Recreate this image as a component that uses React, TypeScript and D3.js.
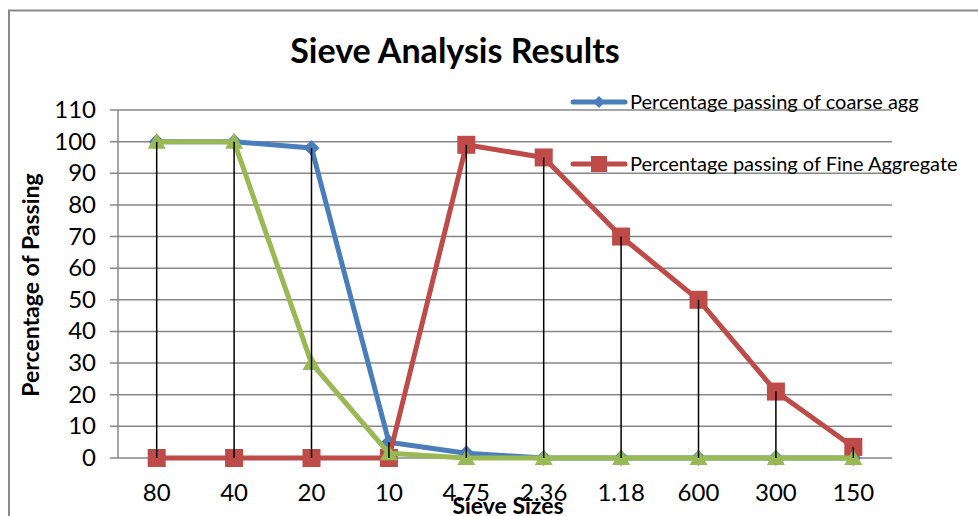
import React from "react";
import * as d3 from "d3";

const categories = ["80", "40", "20", "10", "4.75", "2.36", "1.18", "600", "300", "150"];
const coarse = [100, 100, 98, 5, 1.5, 0, 0, 0, 0, 0];
const fine = [0, 0, 0, 0, 99, 95, 70, 50, 21, 3.5];
const third = [100, 100, 30, 1.5, 0, 0, 0, 0, 0, 0];
const yTicks = [0, 10, 20, 30, 40, 50, 60, 70, 80, 90, 100, 110];
const legendLabels = ["Percentage passing of coarse agg", "Percentage passing of Fine Aggregate"];

const W = 978, H = 516;
const left = 118, right = 892, top = 110, bottom = 458;
const FONT = "Lato, 'Open Sans', sans-serif";

export default function App() {
  const x = d3.scaleBand().domain(categories).range([left, right]);
  const cx = (c: string) => (x(c) as number) + x.bandwidth() / 2;
  const y = d3.scaleLinear().domain([0, 110]).range([bottom, top]);
  const line = d3.line<number>().x((_, i) => cx(categories[i])).y((d) => y(d));
  const blue = "#4A7EBB", red = "#BE4B48", green = "#98B954";
  const grid = "#878787";

  const diamond = (px: number, py: number, s: number) =>
    `M${px},${py - s} L${px + s},${py} L${px},${py + s} L${px - s},${py} Z`;
  const tri = (px: number, py: number) =>
    `M${px},${py - 9} L${px + 9},${py + 7} L${px - 9},${py + 7} Z`;

  return (
    <svg width={W} height={H} style={{ position: "absolute", left: 0, top: 0, background: "#fff" }} fontFamily={FONT}>
      <rect x={0} y={0} width={W} height={H} fill="#fff" />
      {/* outer border */}
      <path d={`M9,${H} L9,10.5 L${W},10.5`} fill="none" stroke="#898989" strokeWidth={2} />
      {/* gridlines */}
      {yTicks.map((t) => (
        <line key={t} x1={left - 8} x2={right} y1={y(t)} y2={y(t)} stroke={grid} strokeWidth={1.5} />
      ))}
      <line x1={left} x2={left} y1={top} y2={bottom} stroke={grid} strokeWidth={1.5} />
      {yTicks.map((t) => (
        <text key={"l" + t} x={96} y={y(t) + 8} textAnchor="end" fontSize={24} fill="#000">
          {t}
        </text>
      ))}
      {categories.map((c) => (
        <text key={"c" + c} x={cx(c)} y={501} textAnchor="middle" fontSize={24} fill="#000">
          {c}
        </text>
      ))}
      {/* series */}
      <path d={line(coarse) as string} fill="none" stroke={blue} strokeWidth={5} strokeLinejoin="round" />
      {coarse.map((v, i) => (
        <path key={"b" + i} d={diamond(cx(categories[i]), y(v), 8)} fill={blue} />
      ))}
      <path d={line(fine) as string} fill="none" stroke={red} strokeWidth={5} strokeLinejoin="round" />
      {fine.map((v, i) => (
        <rect key={"r" + i} x={cx(categories[i]) - 9} y={y(v) - 9} width={18} height={18} fill={red} />
      ))}
      <path d={line(third) as string} fill="none" stroke={green} strokeWidth={5} strokeLinejoin="round" />
      {third.map((v, i) => (
        <path key={"g" + i} d={tri(cx(categories[i]), y(v))} fill={green} />
      ))}
      {/* drop lines */}
      {categories.map((c, i) => {
        const m = Math.max(coarse[i], fine[i], third[i]);
        return <line key={"d" + c} x1={cx(c)} x2={cx(c)} y1={y(m)} y2={y(0)} stroke="#000" strokeWidth={1.5} />;
      })}
      {/* legend */}
      <line x1={573} x2={625} y1={102} y2={102} stroke={blue} strokeWidth={5} strokeLinecap="round" />
      <path d={diamond(599, 102, 6)} fill={blue} />
      <text x={630} y={109} fontSize={20} fill="#000">{legendLabels[0]}</text>
      <line x1={573} x2={625} y1={164} y2={164} stroke={red} strokeWidth={5} strokeLinecap="round" />
      <rect x={591} y={156} width={16} height={16} fill={red} />
      <text x={630} y={171} fontSize={20} fill="#000">{legendLabels[1]}</text>
      {/* titles */}
      <text x={455} y={63} textAnchor="middle" fontSize={34} fontWeight="bold" fill="#000">Sieve Analysis Results</text>
      <text transform={`translate(39,285) rotate(-90)`} textAnchor="middle" fontSize={23} fontWeight="bold" fill="#000">
        Percentage of Passing
      </text>
      <text x={508} y={514} textAnchor="middle" fontSize={23} fontWeight="bold" fill="#000">Sieve Sizes</text>
    </svg>
  );
}
